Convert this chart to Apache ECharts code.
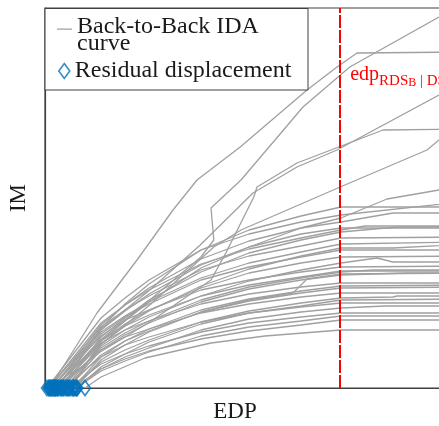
<!DOCTYPE html>
<html><head><meta charset="utf-8">
<script src="https://cdn.jsdelivr.net/npm/echarts@6/dist/echarts.min.js"></script>
<style>html,body{margin:0;padding:0;background:#fff}#c{width:439px;height:426px}</style>
</head><body><div id="c"></div>
<script>
const curveName = 'Back-to-Back IDA\ncurve';
const residualName = 'Residual displacement';
const xAxisName = 'EDP';
const yAxisName = 'IM';
const edpLimit = 7.38;

// residual displacement (start of each back-to-back IDA curve), EDP units
const residualDisplacement = [0.12,0.25,0.25,0.18,0.32,1.0,0.8,0.6,0.72,0.45,0.7,0.3,0.55,0.2,0.75,0.4,0.15,0.5,0.35,0.25,0.6,0.1,0.45,0.3,0.2,0.65,0.05,0.4,0.8,0.15,0.55,0.78,0.25,0.1,0.7];

// IDA curves: [EDP, IM]
const curveA = [[0.12,0],[1.3,0.375],[2.3,0.64],[3.2,0.89],[3.8,1.04],[4.88,1.205],[6.55,1.49],[7.3,1.605],[7.8,1.675],[10.6,1.68]];
const curveB = [[0.25,0],[1.38,0.24],[2.62,0.44],[3.9,0.655],[4.22,0.74],[4.15,0.9],[4.9,1.04],[6.45,1.405],[7.62,1.605],[9.85,1.855],[10.5,1.93]];
const curveD = [[0.25,0],[1.38,0.18],[2.62,0.33],[4.15,0.54],[4.52,0.675],[5.22,0.955],[5.3,1.005],[6.3,1.125],[8.45,1.29],[10.62,1.295]];
const curveE = [[0.18,0],[1.38,0.29],[2.62,0.49],[3.88,0.715],[5.2,0.975],[6.3,1.105],[7.3,1.19],[9.85,1.465],[10.62,1.55]];
const curveF = [[0.32,0],[1.38,0.215],[2.62,0.415],[4.22,0.705],[4.9,0.79],[7.38,1.005],[9.55,1.19],[9.85,1.24],[10.62,1.315]];
const curveB1 = [[1.0,0],[1.4,0.055],[2.5,0.15],[4.15,0.225],[5.5,0.26],[7.4,0.29],[10.6,0.29]];
const curveB2 = [[0.8,0],[1.4,0.095],[2.0,0.145],[2.6,0.185],[3.9,0.245],[5.1,0.285],[6.4,0.315],[7.4,0.34],[10.6,0.34]];
const curveB3 = [[0.6,0],[1.4,0.12],[2.0,0.17],[2.6,0.21],[3.9,0.28],[5.1,0.325],[6.4,0.355],[7.4,0.375],[10.6,0.375]];
const curveB4 = [[0.72,0],[1.4,0.095],[2.0,0.155],[2.6,0.2],[3.9,0.29],[5.1,0.345],[6.4,0.38],[7.4,0.40],[8.5,0.41],[10.6,0.41]];
const curveB5 = [[0.45,0],[1.4,0.155],[2.0,0.215],[2.6,0.255],[3.9,0.33],[5.1,0.375],[6.4,0.405],[7.4,0.425],[10.6,0.425]];
const curveB6 = [[0.7,0],[1.4,0.13],[2.0,0.19],[2.6,0.24],[3.9,0.33],[5.1,0.385],[6.4,0.425],[7.4,0.45],[8.7,0.455],[8.8,0.46],[10.6,0.46]];
const curveB7 = [[0.3,0],[1.4,0.19],[2.0,0.255],[2.6,0.295],[3.9,0.375],[5.1,0.42],[6.4,0.455],[7.4,0.475],[10.6,0.475]];
const curveB8 = [[0.55,0],[1.4,0.165],[2.0,0.235],[2.6,0.285],[3.9,0.38],[5.1,0.435],[6.4,0.475],[7.4,0.50],[10.6,0.505]];
const curveB9 = [[0.2,0],[1.4,0.225],[2.0,0.29],[2.6,0.335],[3.9,0.42],[5.1,0.47],[6.4,0.505],[7.4,0.525],[10.6,0.525]];
const curveB10 = [[0.75,0],[1.4,0.14],[2.0,0.215],[2.6,0.28],[3.9,0.38],[5.1,0.44],[6.2,0.475],[6.55,0.545],[7.4,0.57],[10.6,0.575]];
const curveB11 = [[0.4,0],[1.4,0.2],[2.0,0.275],[2.6,0.335],[3.9,0.44],[5.1,0.505],[6.4,0.55],[7.4,0.58],[8.2,0.59],[10.6,0.59]];
const curveB12 = [[0.15,0],[1.4,0.26],[2.0,0.34],[2.6,0.39],[3.9,0.49],[5.1,0.54],[6.4,0.58],[7.4,0.605],[10.6,0.61]];
const curveB13 = [[0.5,0],[1.4,0.21],[2.0,0.29],[2.6,0.355],[3.9,0.46],[5.1,0.535],[6.4,0.59],[7.4,0.625],[8.3,0.65],[8.7,0.63],[10.6,0.63]];
const curveB14 = [[0.35,0],[1.4,0.235],[2.0,0.32],[2.6,0.39],[3.9,0.5],[5.1,0.575],[6.4,0.625],[7.4,0.655],[10.6,0.66]];
const curveB15 = [[0.25,0],[1.4,0.27],[2.0,0.355],[2.6,0.42],[3.9,0.54],[5.1,0.605],[6.4,0.655],[7.4,0.69],[10.6,0.69]];
const curveB16 = [[0.6,0],[1.4,0.22],[2.0,0.31],[2.6,0.385],[3.9,0.51],[5.1,0.595],[6.4,0.66],[7.4,0.70],[8.7,0.70],[10.6,0.72]];
const curveB17 = [[0.1,0],[1.4,0.305],[2.0,0.39],[2.6,0.46],[3.9,0.59],[5.1,0.66],[6.4,0.71],[7.4,0.75],[10.6,0.755]];
const curveB18 = [[0.45,0],[1.4,0.255],[2.0,0.35],[2.6,0.44],[3.9,0.58],[5.1,0.675],[6.4,0.74],[7.4,0.78],[8.8,0.805],[10.6,0.805]];
const curveB19 = [[0.3,0],[1.4,0.29],[2.0,0.385],[2.6,0.47],[3.9,0.615],[5.1,0.705],[6.4,0.77],[7.4,0.80],[8.8,0.80],[10.6,0.80]];
const curveB20 = [[0.2,0],[1.4,0.315],[2.0,0.415],[2.6,0.5],[3.9,0.645],[5.1,0.735],[6.4,0.8],[7.4,0.83],[8.7,0.875],[10.6,0.875]];
const curveB21 = [[0.65,0],[1.4,0.235],[2.0,0.335],[2.6,0.43],[3.9,0.6],[5.1,0.705],[6.4,0.8],[7.4,0.85],[8.55,0.945],[9.85,0.99],[10.6,1.01]];
const curveB22 = [[0.05,0],[1.4,0.35],[2.0,0.45],[2.6,0.54],[3.9,0.69],[5.1,0.77],[6.4,0.83],[7.4,0.865],[10.6,0.935]];
const curveB23 = [[0.4,0],[1.4,0.3],[2.0,0.42],[2.6,0.52],[3.9,0.69],[5.1,0.79],[6.4,0.86],[7.4,0.905],[10.6,0.905]];
const curveB24 = [[0.8,0],[1.4,0.105],[2.0,0.17],[2.6,0.23],[3.9,0.32],[5.1,0.375],[6.4,0.41],[7.4,0.44],[10.6,0.445]];
const curveB25 = [[0.15,0],[1.4,0.28],[2.0,0.36],[2.6,0.43],[3.9,0.55],[5.1,0.625],[6.4,0.68],[7.4,0.72],[10.6,0.73]];
const curveB26 = [[0.55,0],[1.4,0.19],[2.0,0.265],[2.6,0.325],[3.9,0.43],[5.1,0.495],[6.4,0.54],[7.4,0.565],[9.0,0.575],[10.6,0.575]];
const curveB27 = [[0.78,0],[1.4,0.085],[2.0,0.135],[2.6,0.18],[3.9,0.26],[5.1,0.305],[6.4,0.335],[7.4,0.36],[10.6,0.36]];
const curveB28 = [[0.25,0],[1.4,0.235],[2.0,0.31],[2.6,0.365],[3.9,0.46],[5.1,0.515],[6.4,0.555],[7.4,0.585],[10.6,0.585]];
const curveB29 = [[0.1,0],[1.4,0.325],[2.0,0.415],[2.6,0.49],[3.9,0.62],[5.1,0.695],[6.4,0.75],[7.4,0.79],[8.0,0.81],[10.6,0.81]];
const curveB30 = [[0.7,0],[1.4,0.155],[2.0,0.235],[2.6,0.295],[3.9,0.39],[5.1,0.445],[6.4,0.485],[7.4,0.51],[10.6,0.515]];

const curves = [curveA,curveB,curveD,curveE,curveF,curveB1,curveB2,curveB3,curveB4,curveB5,curveB6,curveB7,curveB8,curveB9,curveB10,
  curveB11,curveB12,curveB13,curveB14,curveB15,curveB16,curveB17,curveB18,curveB19,curveB20,curveB21,curveB22,curveB23,curveB24,curveB25,
  curveB26,curveB27,curveB28,curveB29,curveB30];

const FONT = 'Liberation Serif';
const GRAY = '#a0a0a0';
const BLUE = '#0072BD';
const AXIS = '#404040';

const chart = echarts.init(document.getElementById('c'), null, {renderer:'canvas'});

const series = curves.map(d => ({
  type:'line', name:curveName, data:d, symbol:'none', showSymbol:false, silent:true, z:2,
  lineStyle:{color:GRAY, width:1.3}, itemStyle:{color:GRAY}
}));
series.push({
  type:'line', name:'edpLimit', data:[], z:4, silent:true,
  markLine:{symbol:'none', silent:true, animation:false, label:{show:false},
    lineStyle:{color:'#ff0000', width:2, type:[13,2]}, data:[{xAxis:edpLimit}]}
});
series.push({
  type:'scatter', name:residualName, data:residualDisplacement.map(v => [v,0]), z:5, clip:false, silent:true,
  symbol:'diamond', symbolSize:[11,15],
  itemStyle:{color:'rgba(0,0,0,0)', borderColor:BLUE, borderWidth:1.7}
});

chart.setOption({
  animation:false,
  grid:{left:45, top:8, width:420, height:380, outerBoundsMode:'none', containLabel:false,
    show:true, borderColor:AXIS, borderWidth:1.2, backgroundColor:'#fff'},
  xAxis:{type:'value', min:0, max:10.5, name:xAxisName, nameLocation:'middle', nameGap:12,
    nameTextStyle:{fontFamily:FONT, fontSize:23, color:'#1a1a1a', padding:[0,40,0,0]},
    axisLine:{show:true, lineStyle:{color:AXIS, width:1.2}}, axisTick:{show:false}, axisLabel:{show:false}, splitLine:{show:false}},
  yAxis:{type:'value', min:0, max:1.9, name:yAxisName, nameLocation:'middle', nameGap:15,
    nameTextStyle:{fontFamily:FONT, fontSize:23, color:'#1a1a1a'},
    axisLine:{show:true, lineStyle:{color:AXIS, width:1.2}}, axisTick:{show:false}, axisLabel:{show:false}, splitLine:{show:false}},
  legend:[
    {data:[{name:curveName, icon:'path://M0,0H15V1.2H0Z M15,13.95H15.05V14H15Z', itemStyle:{color:GRAY, borderWidth:0}}],
      left:57, top:15, itemWidth:15, itemHeight:14, selectedMode:false, padding:0, z:6,
      textStyle:{fontFamily:FONT, fontSize:24, lineHeight:17, color:'#1a1a1a'}},
    {data:[{name:residualName, icon:'diamond', itemStyle:{color:'rgba(0,0,0,0)', borderColor:BLUE, borderWidth:1.6}}],
      left:58, top:59, itemWidth:11, itemHeight:15, selectedMode:false, padding:0, z:6,
      textStyle:{fontFamily:FONT, fontSize:24, color:'#1a1a1a'}}
  ],
  series:series
});

const px = chart.convertToPixel({xAxisIndex:0}, edpLimit);
const pyTop = chart.convertToPixel({yAxisIndex:0}, 1.9);
chart.setOption({
  graphic:[
    {type:'rect', id:'legendBox', z:3, shape:{x:45, y:pyTop+0.5, width:263, height:81.5},
      style:{fill:'#fff', stroke:AXIS, lineWidth:1}},
    {type:'text', id:'edpLabel', z:6, x:px+10, y:pyTop+57,
      style:{text:'{a|edp}{b|RDS}{c|B}{b| | DS}{c|C}', verticalAlign:'top', fill:'#ff0000',
        rich:{
          a:{fontFamily:FONT, fontSize:20, lineHeight:24, verticalAlign:'top', fill:'#ff0000', color:'#ff0000'},
          b:{fontFamily:FONT, fontSize:15, lineHeight:9, verticalAlign:'bottom', fill:'#ff0000', color:'#ff0000'},
          c:{fontFamily:FONT, fontSize:12, lineHeight:5, verticalAlign:'bottom', fill:'#ff0000', color:'#ff0000'}
        }}}
  ]
});
</script></body></html>
